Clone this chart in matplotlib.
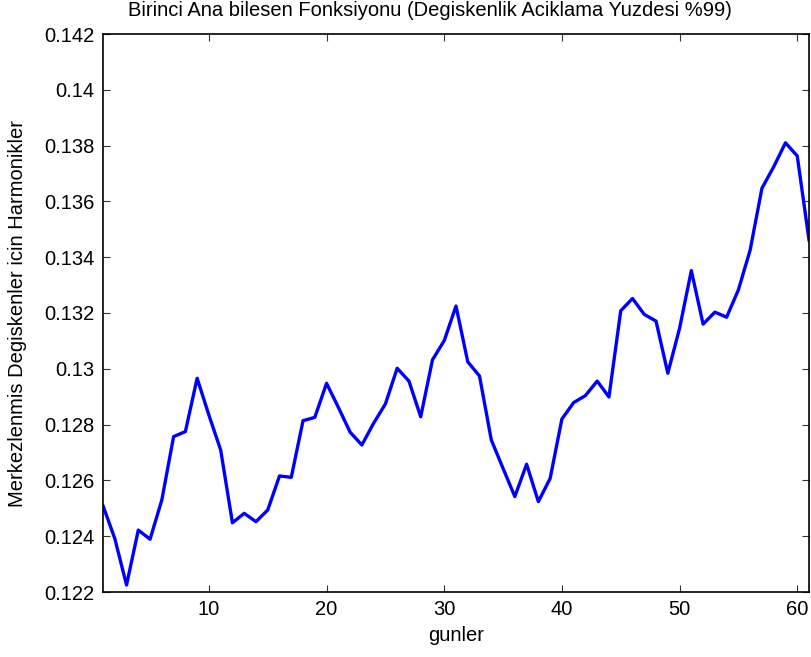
import numpy as np
import matplotlib
matplotlib.use("Agg")
import matplotlib.pyplot as plt

plt.rcParams["font.family"] = ["Liberation Sans", "DejaVu Sans"]

# harmonic values of the first principal component, one per day
gunler = np.arange(1, 62)
harmonik = [
    0.12509, 0.12392, 0.12225, 0.12422, 0.12389, 0.12530, 0.12757, 0.12775,
    0.12966, 0.12834, 0.12709, 0.12448, 0.12482, 0.12452, 0.12494, 0.12616,
    0.12611, 0.12814, 0.12826, 0.12948, 0.12862, 0.12773, 0.12727, 0.12805,
    0.12874, 0.13002, 0.12956, 0.12828, 0.13032, 0.13101, 0.13225, 0.13025,
    0.12974, 0.12745, 0.12643, 0.12542, 0.12658, 0.12524, 0.12607, 0.12820,
    0.12879, 0.12904, 0.12956, 0.12899, 0.13208, 0.13252, 0.13195, 0.13171,
    0.12984, 0.13145, 0.13352, 0.13160, 0.13203, 0.13185, 0.13283, 0.13426,
    0.13647, 0.13724, 0.13810, 0.13763, 0.13462,
]
x_ticks = [10, 20, 30, 40, 50, 60]
y_ticks = [0.122, 0.124, 0.126, 0.128, 0.13, 0.132, 0.134, 0.136, 0.138, 0.14, 0.142]

fig = plt.figure(figsize=(8.11, 6.57), dpi=100)
ax = fig.add_axes([103 / 811, 65 / 657, 706 / 811, 558 / 657])

ax.plot(gunler, harmonik, color="#0000ff", linewidth=2.4)

ax.set_xlim(1, 61)
ax.set_ylim(0.122, 0.142)
ax.set_xticks(x_ticks)
ax.set_yticks(y_ticks)
ax.set_yticklabels([f"{v:g}" for v in y_ticks])
ax.tick_params(direction="in", length=5, width=0.8, top=True, right=True,
               labelsize=14.5, pad=6, color="#333333")
for s in ax.spines.values():
    s.set_linewidth(1.2)

ax.set_title("Birinci Ana bilesen Fonksiyonu (Degiskenlik Aciklama Yuzdesi %99)",
             fontsize=14.5, pad=13, x=0.463)
ax.set_xlabel("gunler", fontsize=14.5, labelpad=5)
ax.set_ylabel("Merkezlenmis Degiskenler icin Harmonikler", fontsize=14.5)
ax.yaxis.set_label_coords(-76 / 706, 0.5)

fig.savefig("out.png", dpi=100)
